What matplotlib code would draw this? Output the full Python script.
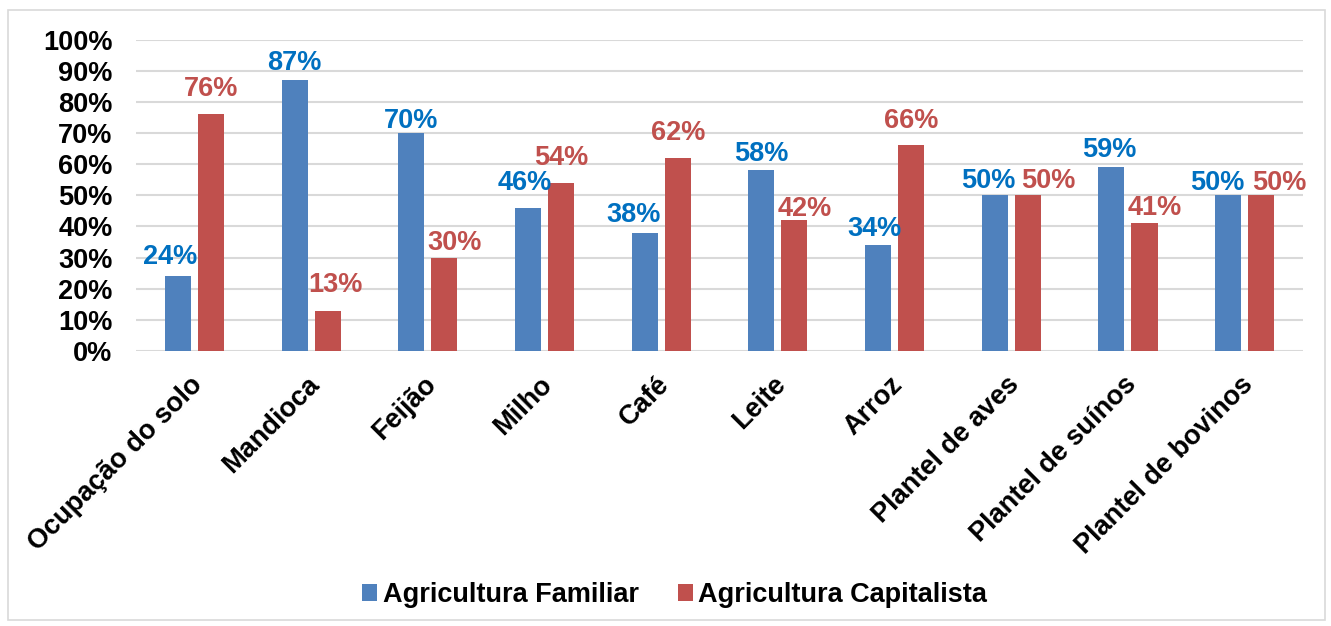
import matplotlib
matplotlib.use("Agg")
import matplotlib.pyplot as plt
import matplotlib.transforms as mtransforms
import numpy as np
from matplotlib.patches import Rectangle

categories = ["Ocupação do solo", "Mandioca", "Feijão", "Milho", "Café", "Leite",
              "Arroz", "Plantel de aves", "Plantel de suínos", "Plantel de bovinos"]
familiar = [24, 87, 70, 46, 38, 58, 34, 50, 59, 50]
capitalista = [76, 13, 30, 54, 62, 42, 66, 50, 41, 50]
series_names = ["Agricultura Familiar", "Agricultura Capitalista"]
yticks = [0, 10, 20, 30, 40, 50, 60, 70, 80, 90, 100]

# label placement (pixel offsets of label centre from bar-top centre), layout only
lab_dx_fam = [-8, 0, 0, -3, -11, 0, -4, -6, -2, -11]
lab_dy_fam = [19, 17, 12, 25, 18, 16, 16, 14, 17, 12]
lab_dx_cap = [0, 8, 10, 0, 0, 10, 0, 20, 10, 18]
lab_dy_cap = [25, 26, 15, 25, 25, 11, 24, 14, 15, 12]

plt.rcParams['font.family'] = ['Liberation Sans', 'DejaVu Sans']
plt.rcParams['font.weight'] = 'bold'

FS = 19.5
fig = plt.figure(figsize=(13.31, 6.26), dpi=100)
ax = fig.add_axes([0.1022, 0.4393, 0.8768, 0.4976])

x = np.arange(len(categories))
w = 0.223
gap = 0.06
c_blue = "#4F81BD"
c_red = "#C0504D"
b1 = ax.bar(x - (w + gap) / 2, familiar, w, color=c_blue, label=series_names[0], zorder=3)
b2 = ax.bar(x + (w + gap) / 2, capitalista, w, color=c_red, label=series_names[1], zorder=3)

for bars, vals, dxs, dys, col in [(b1, familiar, lab_dx_fam, lab_dy_fam, "#0070C0"),
                                  (b2, capitalista, lab_dx_cap, lab_dy_cap, c_red)]:
    for rect, v, dx, dy in zip(bars, vals, dxs, dys):
        ax.annotate(f"{v}%", (rect.get_x() + rect.get_width() / 2, v),
                    xytext=(dx, dy), textcoords='offset pixels',
                    ha='center', va='center', color=col, fontsize=FS,
                    fontweight='bold', zorder=4, annotation_clip=False)

ax.set_xlim(-0.5, len(categories) - 0.5)
ax.set_ylim(0, 100)
ax.set_yticks(yticks)
ax.set_yticklabels([f"{t}%" for t in yticks], fontsize=FS, fontweight='bold')
ax.yaxis.grid(True, color="#D9D9D9", linewidth=1.5, zorder=0)
ax.set_axisbelow(True)
for s in ax.spines.values():
    s.set_visible(False)
ax.tick_params(axis='both', length=0)
ax.tick_params(axis='y', pad=17)
ax.set_xticks(x)
ax.set_xticklabels(categories, rotation=45, ha='right', rotation_mode='anchor',
                   fontsize=FS, fontweight='bold')
ax.tick_params(axis='x', pad=14)
shift = mtransforms.ScaledTranslation(-5 / 100, -1 / 100, fig.dpi_scale_trans)
for lbl in ax.get_xticklabels():
    lbl.set_transform(lbl.get_transform() + shift)

leg = fig.legend(handles=[b1, b2], labels=series_names, loc='center',
                 bbox_to_anchor=(0.507, 1 - 595 / 626), ncol=2, frameon=False,
                 prop={'size': FS, 'weight': 'bold'}, handlelength=0.55, handleheight=0.55,
                 handletextpad=0.2, columnspacing=1.45)

fig.patches.append(Rectangle((8 / 1331, 1 - 620 / 626), (1325 - 8) / 1331, (620 - 10) / 626,
                             transform=fig.transFigure, fill=False, edgecolor="#D9D9D9",
                             linewidth=1.2, zorder=0))

fig.savefig("out.png", dpi=100, facecolor='white')
